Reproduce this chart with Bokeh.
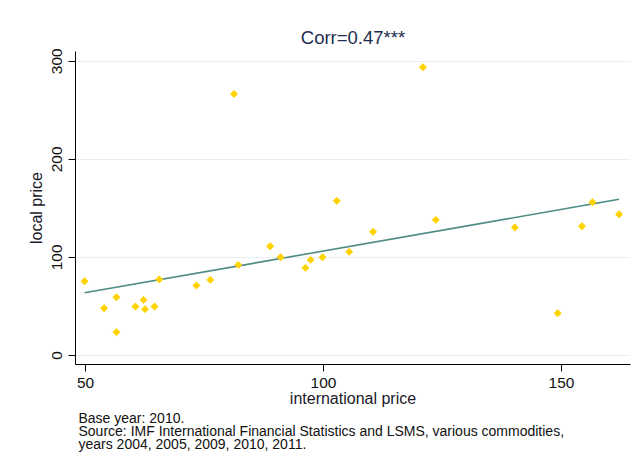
from bokeh.plotting import figure
from bokeh.models import Range1d, FixedTicker, Title, ColumnDataSource
from bokeh.embed import file_html
from bokeh.resources import INLINE
import math

# ---- data ----
intl_price = [49.8, 53.9, 56.5, 56.5, 60.5, 62.2, 62.5, 64.5, 65.5, 73.3,
              76.2, 81.2, 82.1, 88.8, 91.0, 96.2, 97.3, 99.8, 102.8, 105.4,
              110.4, 120.9, 123.6, 140.2, 149.2, 154.3, 156.5, 162.1]
local_price = [75.7, 48.2, 59.4, 23.8, 49.9, 56.7, 47.2, 49.9, 77.5, 71.4,
               77.1, 266.7, 92.4, 111.4, 100.2, 89.4, 97.5, 100.2, 157.7, 105.7,
               126.1, 293.9, 138.3, 130.5, 43.1, 131.8, 156.3, 144.0]
fit_x = [49.8, 162.1]
fit_y = [63.9, 159.3]
x_ticks = [50, 100, 150]
y_ticks = [0, 100, 200, 300]
title_text = "Corr=0.47***"
x_label = "international price"
y_label = "local price"
notes = ["Base year: 2010.",
         "Source: IMF International Financial Statistics and LSMS, various commodities,",
         "years 2004, 2005, 2009, 2010, 2011."]

FONT = "Liberation Sans"

p = figure(frame_width=555, frame_height=313,
           min_border_left=75, min_border_right=2,
           min_border_top=51, min_border_bottom=101,
           x_range=Range1d(47.9, 164.5), y_range=Range1d(-9.2, 310),
           output_backend="svg", toolbar_location=None,
           background_fill_color="white", border_fill_color="white")
p.outline_line_color = None

src = ColumnDataSource(dict(x=intl_price, y=local_price))
p.line(fit_x, fit_y, line_color="#4f8b82", line_width=1.6)
p.scatter("x", "y", source=src, marker="square", angle=math.pi / 4, size=5.2,
          fill_color="#FFD200", line_color="#FFD200", line_width=0.6)

# title
p.title.text = title_text
p.title.align = "center"
p.title.text_font = FONT
p.title.text_font_size = "18.5px"
p.title.text_font_style = "normal"
p.title.text_color = "#1e2d4f"
p.title.standoff = 7

# grids
p.xgrid.grid_line_color = None
p.ygrid.grid_line_color = "#e6eff2"
p.ygrid.grid_line_width = 1
p.ygrid.ticker = FixedTicker(ticks=y_ticks)

# axes
for ax in (p.xaxis[0], p.yaxis[0]):
    ax.axis_line_color = "black"
    ax.axis_line_width = 1
    ax.major_tick_line_color = "black"
    ax.major_tick_out = 7
    ax.major_tick_in = 0
    ax.minor_tick_line_color = None
    ax.major_label_text_font = FONT
    ax.major_label_text_font_size = "15.5px"
    ax.major_label_text_color = "#111111"
    ax.axis_label_text_font = FONT
    ax.axis_label_text_font_size = "16px"
    ax.axis_label_text_font_style = "normal"
    ax.axis_label_text_color = "#1a1a2a"

p.xaxis.ticker = FixedTicker(ticks=x_ticks)
p.yaxis.ticker = FixedTicker(ticks=y_ticks)
p.xaxis.axis_label = x_label
p.yaxis.axis_label = y_label
p.yaxis.major_label_orientation = "vertical"
p.xaxis.major_label_standoff = 6
p.xaxis.axis_label_standoff = -1
p.yaxis.major_label_standoff = 6
p.yaxis.axis_label_standoff = 5

# footnotes (one multi-line title below the axis)
note = Title(text="\n".join(notes), align="left", offset=3, standoff=-3,
             text_font=FONT, text_font_size="14px", text_font_style="normal",
             text_color="#111111", text_line_height=0.81)
p.add_layout(note, "below")

open("out.html", "w").write(file_html(p, INLINE))
